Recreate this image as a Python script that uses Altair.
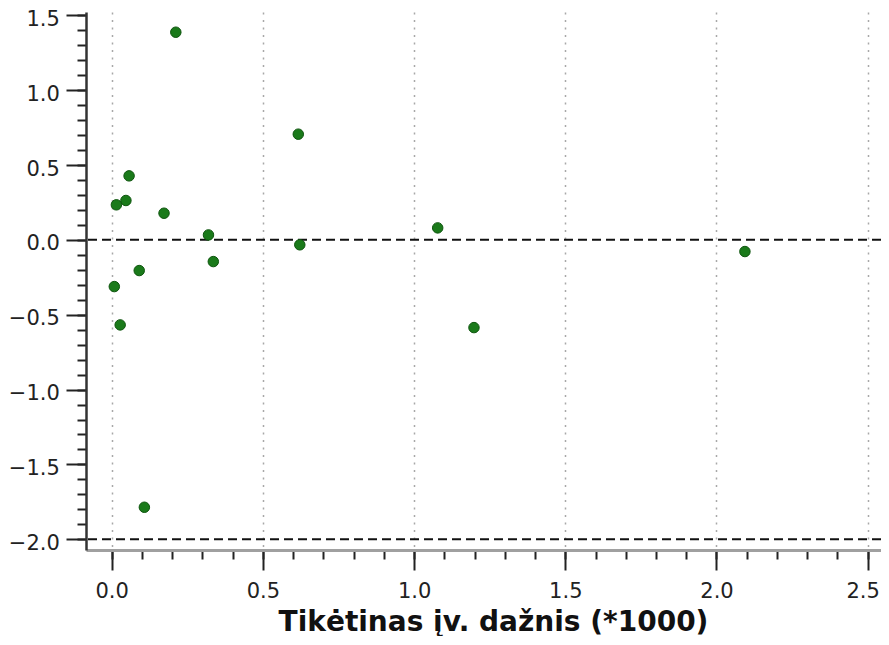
import altair as alt
import pandas as pd

# Data
expected_freq = [0.212, 0.617, 0.0575, 0.047, 0.0155, 0.173, 0.320, 1.078,
                 0.622, 2.094, 0.336, 0.091, 0.0086, 0.028, 1.198, 0.108]
residual = [1.387, 0.706, 0.4275, 0.263, 0.234, 0.178, 0.033, 0.080,
            -0.033, -0.078, -0.145, -0.205, -0.312, -0.568, -0.586, -1.786]
ref_lines = [0.0, -2.0]
x_major = [0.0, 0.5, 1.0, 1.5, 2.0, 2.5]
x_minor = [round(i * 0.1, 1) for i in range(0, 26)]
y_major = [-2.0, -1.5, -1.0, -0.5, 0.0, 0.5, 1.0, 1.5]
y_minor = [round(-2.0 + i * 0.1, 1) for i in range(0, 36)]
x_title = "Tikėtinas įv. dažnis (*1000)"

df = pd.DataFrame({"x": expected_freq, "y": residual})
lines_df = pd.DataFrame({"y": ref_lines})

FONT = "DejaVu Sans"
xscale = alt.Scale(domain=[-0.085, 2.544], nice=False, zero=False)
yscale = alt.Scale(domain=[-2.0715, 1.522], nice=False, zero=False)

W, H = 795, 538

points = alt.Chart(df).mark_point(
    filled=True, size=110, color="#1a7a1a", stroke="#0e550e", strokeWidth=1, opacity=1
).encode(
    x=alt.X("x:Q", scale=xscale, axis=alt.Axis(
        orient="bottom", values=x_major, format=".1f", title=x_title,
        grid=True, gridColor="#a8a8a8", gridDash=[2, 5.5], gridWidth=1.5,
        tickSize=20, tickWidth=2, tickColor="#222",
        domainColor="#a0a0a0", domainWidth=3,
        labelFont=FONT, labelFontSize=21, labelColor="#222",
        labelBaseline="alphabetic", labelPadding=27,
        labelOffset={"condition": {"test": "datum.value >= 2.4", "value": -5}, "value": 0},
        titleFont=FONT, titleFontSize=28, titleFontWeight="bold", titleColor="#111",
        titleBaseline="alphabetic", titleY=80, titleX=407, titleAlign="center",
    )),
    y=alt.Y("y:Q", scale=yscale, axis=alt.Axis(
        orient="left", values=y_major, format=".1f", title=None, grid=False,
        tickSize=20, tickWidth=2, tickColor="#222",
        domainColor="#333", domainWidth=2.5,
        labelFont=FONT, labelFontSize=21, labelColor="#222",
        labelBaseline="alphabetic", labelOffset=10, labelPadding=6.7,
    )),
)

minor = alt.Chart(df).mark_point(opacity=0).encode(
    x=alt.X("x:Q", scale=xscale, axis=alt.Axis(
        orient="bottom", values=x_minor, labels=False, title=None, grid=False,
        domain=False, tickSize=9, tickWidth=2, tickColor="#222",
    )),
    y=alt.Y("y:Q", scale=yscale, axis=alt.Axis(
        orient="left", values=y_minor, labels=False, title=None, grid=False,
        domain=False, tickSize=9, tickWidth=2, tickColor="#222",
    )),
)

rules = alt.Chart(lines_df).mark_rule(
    color="#111", strokeWidth=2, strokeDash=[9, 5]
).encode(
    y=alt.Y("y:Q", scale=yscale, axis=None),
)

top_border = alt.Chart(lines_df).mark_rule(color="#aaaaaa", strokeWidth=3).encode(
    x=alt.value(0), x2=alt.value(W), y=alt.value(-6)
)

chart = alt.layer(minor, rules, top_border, points).resolve_axis(
    x="independent", y="independent"
).properties(
    width=W, height=H,
    autosize=alt.AutoSizeParams(type="none"),
    padding={"left": 78, "top": 4, "right": 0, "bottom": 86},
).configure_view(stroke=None)

chart.save("out.html", embed_options={"renderer": "svg", "actions": False})
